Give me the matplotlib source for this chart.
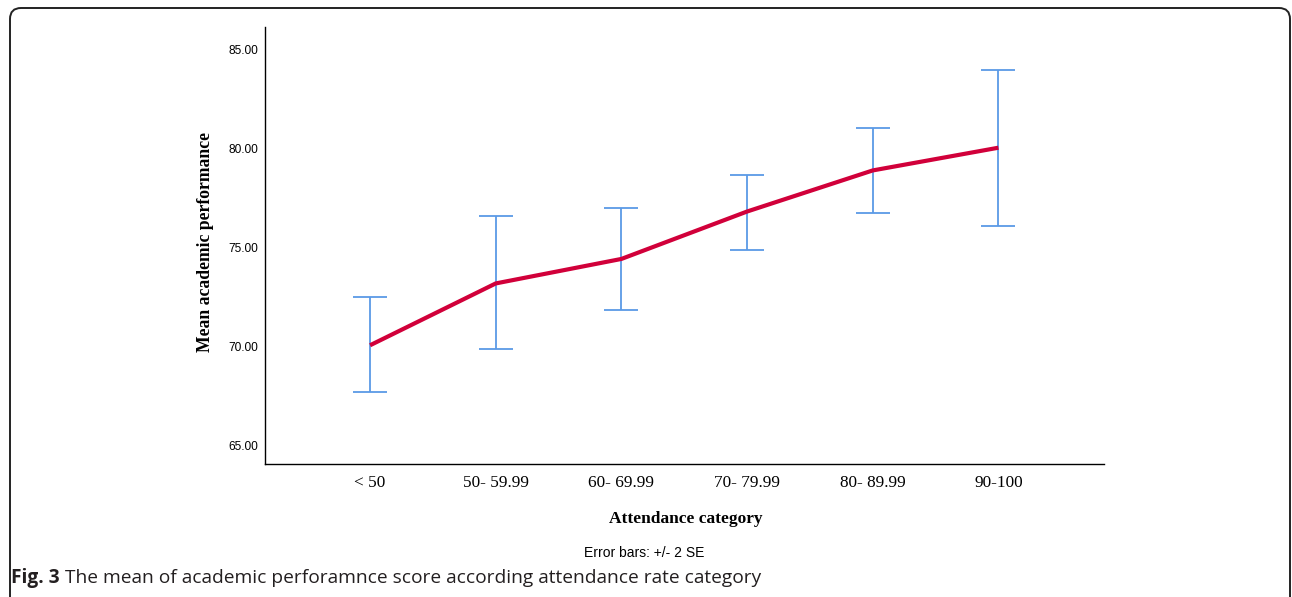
import matplotlib.pyplot as plt
from matplotlib.patches import FancyBboxPatch

# data
categories = ['< 50', '50- 59.99', '60- 69.99', '70- 79.99', '80- 89.99', '90-100']
means = [70.05, 73.18, 74.42, 76.82, 78.90, 80.05]
upper = [72.47, 76.57, 77.02, 78.69, 81.06, 84.00]
lower = [67.68, 69.85, 71.82, 74.85, 76.77, 76.11]
yticks = [65, 70, 75, 80, 85]

fig = plt.figure(figsize=(12.92, 5.97), dpi=100)

# rounded frame round the figure panel (open at the bottom), in inches
frame = FancyBboxPatch((0.10, -0.5), 12.80, 5.97 - 0.08 + 0.5,
                       boxstyle='round,pad=0,rounding_size=0.11',
                       transform=fig.dpi_scale_trans, fill=False,
                       edgecolor='#222222', linewidth=1.4)
fig.patches.append(frame)

ax = fig.add_axes([265 / 1292, 1 - 464 / 597, (1104 - 265) / 1292, (464 - 27) / 597])

x = list(range(len(categories)))
err_lo = [m - l for m, l in zip(means, lower)]
err_hi = [u - m for m, u in zip(means, upper)]

ax.errorbar(x, means, yerr=[err_lo, err_hi], fmt='none', ecolor='#5A9AE6',
            elinewidth=1.3, capsize=12, capthick=1.3, zorder=2)
ax.plot(x, means, color='#D1003A', linewidth=3, solid_capstyle='butt', zorder=3)

ax.set_xlim(-0.836, len(categories) - 1 + 0.84)
ax.set_ylim(64.04, 86.16)
ax.set_xticks(x)
ax.set_xticklabels(categories, fontfamily='Liberation Serif', fontsize=12.4)
ax.set_yticks(yticks)
ax.set_yticklabels([f'{v:.2f}' for v in yticks], fontfamily='Liberation Sans', fontsize=8.6)
ax.tick_params(axis='both', length=0)
ax.tick_params(axis='x', pad=8)
ax.tick_params(axis='y', pad=5)

for s in ['top', 'right']:
    ax.spines[s].set_visible(False)
for s in ['left', 'bottom']:
    ax.spines[s].set_linewidth(1.0)
    ax.spines[s].set_color('black')

fig.text(205 / 1292, 1 - 242 / 597, 'Mean academic performance', rotation=90,
         ha='center', va='center', fontfamily='Liberation Serif',
         fontweight='bold', fontsize=12.7)
fig.text(686 / 1292, 1 - 519 / 597, 'Attendance category', ha='center', va='center',
         fontfamily='Liberation Serif', fontweight='bold', fontsize=12.5)
fig.text(644 / 1292, 1 - 553 / 597, 'Error bars: +/- 2 SE', ha='center', va='center',
         fontfamily='Liberation Sans', fontsize=10)

cap = fig.text(11 / 1292, 1 - 578 / 597, 'Fig. 3', ha='left', va='center',
               fontfamily='Open Sans', fontweight='bold', fontsize=13.8, color='#231f20')
fig.canvas.draw()
bb = cap.get_window_extent()
fig.text((bb.x1 + 5) / 1292, 1 - 578 / 597,
         'The mean of academic perforamnce score according attendance rate category',
         ha='left', va='center', fontfamily='Open Sans', fontsize=13.8, color='#231f20')

fig.savefig('out.png', dpi=100)
